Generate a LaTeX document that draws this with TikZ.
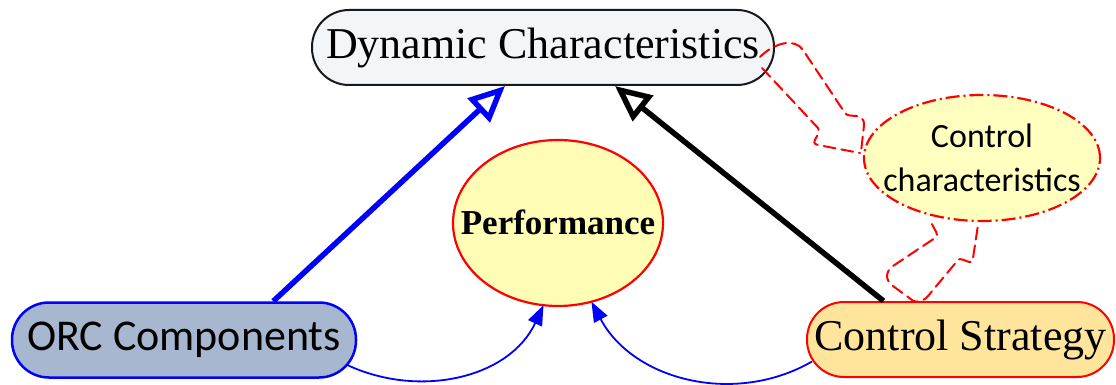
\documentclass[tikz,border=0pt]{standalone}
\usepackage{fontspec}
\setmainfont{Liberation Serif}
\newfontfamily\calfont{Carlito}
\usetikzlibrary{arrows.meta,shapes.geometric}
\definecolor{dynfill}{HTML}{F3F6F9}
\definecolor{perffill}{HTML}{FFFDB5}
\definecolor{orcfill}{HTML}{A6B7CF}
\definecolor{csfill}{HTML}{FFE49B}
\definecolor{ccfill}{HTML}{FFFFC0}
\newcommand{\zerobox}[1]{\makebox[0pt][c]{\raisebox{0pt}[0pt][0pt]{#1}}}
\tikzset{
  pill/.style={draw, rounded corners=37pt, minimum height=75pt, inner sep=0pt, line width=2pt},
  bubble/.style={ellipse, draw=red, line width=2.2pt, inner sep=0pt, outer sep=0pt},
  bigarrow/.style={line width=5.5pt, -{Triangle[open,length=36pt,width=32pt]}},
  thinarrow/.style={blue, line width=1.8pt, -{Triangle[length=20pt,width=15pt]}},
  callout/.style={red, line width=2pt, dash pattern=on 12pt off 6pt, line cap=round}
}
\begin{document}
\begin{tikzpicture}[x=1pt,y=-1pt]
\useasboundingbox (0,0) rectangle (1116,385);
% nodes
\node[pill, fill=dynfill, draw=black!90, minimum width=462pt] (dyn) at (543,47.5)
  {\fontsize{44}{50}\selectfont Dynamic Characteristics};
\node[bubble, fill=perffill, minimum width=210pt, minimum height=166pt] (perf) at (558,223)
  {\zerobox{\raisebox{-11pt}{\fontsize{35}{40}\selectfont\bfseries Performance}}};
\node[pill, fill=orcfill, draw=blue, line width=2.5pt, minimum width=344pt] (orc) at (184,340)
  {\calfont\fontsize{44}{50}\selectfont ORC Components};
\node[pill, fill=csfill, draw=red, minimum width=307pt] (cs) at (960.5,339.5)
  {\fontsize{44}{50}\selectfont Control Strategy};
\node[bubble, dash pattern=on 14pt off 4pt on 2pt off 4pt, fill=ccfill, minimum width=236pt, minimum height=126pt] (cc) at (982,158)
  {\zerobox{\raisebox{-10pt}{\calfont\fontsize{34}{40}\selectfont
    \begin{tabular}{@{}c@{}}Control\\[4pt] characteristics\end{tabular}}}};
% main arrows
\draw[bigarrow, blue] ([xshift=-84pt]orc.north east) -- ([xshift=-38pt]dyn.south);
\draw[bigarrow, black] ([xshift=-77pt]cs.north) -- ([xshift=72pt]dyn.south);
% thin curved arrows
\draw[thinarrow] ([shift={(-10,25)}]orc.east) to[out=-25,in=-115] (perf.-100);
\draw[thinarrow] ([shift={(6,22)}]cs.west) to[out=-150,in=-62] (perf.-67);
% callout to Dynamic Characteristics
\draw[callout] (760,57) .. controls (775,42) and (795,38) .. (803,50) -- (845,113)
  .. controls (849,119) and (864,111) .. (864,125) -- (861,152);
\draw[callout] (762,68) -- (818,128) .. controls (822,135) and (808,143) .. (818,145) -- (860,153);
% callout to Control Strategy
\draw[callout] (932,224) .. controls (934,230) and (940,234) .. (935,238) -- (893,266)
  .. controls (885,272) and (885,280) .. (893,286) -- (912,300)
  .. controls (918,304) and (925,300) .. (928,296) -- (958,260)
  .. controls (962,256) and (973,268) .. (973,258) -- (978,225);
\end{tikzpicture}
\end{document}
